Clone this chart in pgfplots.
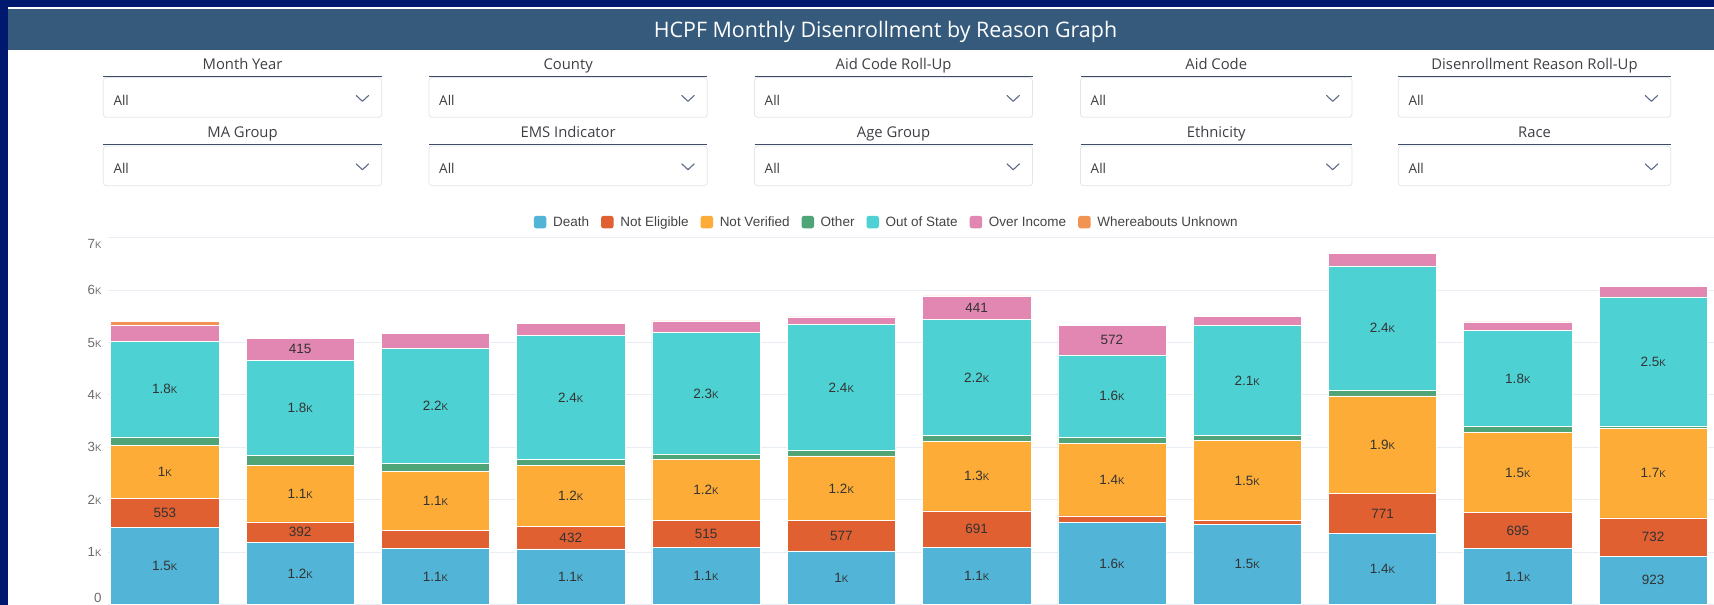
\documentclass[border=0pt]{standalone}
\usepackage{fontspec}
\setmainfont{Liberation Sans}
\newfontfamily\osans{Open Sans}
\usepackage{pgfplots}
\usepackage{pgfplotstable}
\pgfplotsset{compat=1.18}

% palette
\definecolor{navyb}{HTML}{00196E}
\definecolor{titlebar}{HTML}{355A7B}
\definecolor{cDeath}{HTML}{52B5D8}
\definecolor{cNE}{HTML}{E06032}
\definecolor{cNV}{HTML}{FDAC38}
\definecolor{cOth}{HTML}{50A578}
\definecolor{cOOS}{HTML}{4ED1D3}
\definecolor{cOI}{HTML}{E287B1}
\definecolor{cWU}{HTML}{F39351}
\definecolor{gridc}{HTML}{E8EDF3}
\definecolor{tickc}{HTML}{6B6B6B}
\definecolor{labc}{HTML}{333333}
\definecolor{legc}{HTML}{444444}
\definecolor{fltlab}{HTML}{3F3F46}
\definecolor{allc}{HTML}{3C3C3C}
\definecolor{ulc}{HTML}{3E4C6A}
\definecolor{boxc}{HTML}{E2E5EA}
\definecolor{chevc}{HTML}{5B6B88}

% fonts
\newcommand\lbfont{\fontsize{13.5}{16}\selectfont}
\newcommand\lgfont{\fontsize{13.5}{16}\selectfont}
\newcommand\tkfont{\fontsize{13.3}{15}\selectfont}
\newcommand\fltfont{\osans\fontsize{14.8}{17}\selectfont}
\newcommand\allfont{\osans\fontsize{13.5}{16}\selectfont}
\newcommand\ttlfont{\osans\fontsize{21.4}{24}\selectfont}

% small-capital thousands suffix
\newcommand\sK{\scalebox{0.72}{K}}

% segment label: hidden below 380, short form from 1000 on
\newcommand\segfmt[1]{%
  \pgfkeys{/pgf/fpu=false}%
  \pgfmathtruncatemacro\segv{#1}%
  \ifnum\segv<380 \else
    \ifnum\segv<1000 \segv\else
      \pgfmathparse{\segv/1000}%
      \pgfmathprintnumber[fixed,precision=1,assume math mode=true]{\pgfmathresult}\sK
    \fi
  \fi}

% one drop-down filter: left, right, row offset, caption
\newcommand\filterbox[4]{%
  \node[font=\fltfont, text=fltlab, anchor=base] at ({(#1+#2)/2},{69.5+#3}) {#4};
  \draw[boxc, fill=white, rounded corners=3pt, line width=0.8pt] (#1,{77.6+#3}) rectangle (#2,{117.3+#3});
  \draw[ulc, line width=1.5pt] (#1,{76.3+#3}) -- (#2,{76.3+#3});
  \node[font=\allfont, text=allc, anchor=base west, inner sep=0pt] at ({#1+10},{105.5+#3}) {All};
  \draw[chevc, line width=1.1pt, line cap=round, line join=round]
    ({#2-25.5},{95.5+#3}) -- ({#2-19.3},{101.3+#3}) -- ({#2-13.1},{95.5+#3});
}

% monthly disenrollments by reason
\pgfplotstableread{
x  death ne  nv   oth oos  oi  wu
0  1475  553 1015 155 1825 315 70
1  1187  392 1082 178 1826 415 12
2  1070  340 1135 145 2200 290 10
3  1060  432 1160 115 2370 225 5
4  1084  515 1164 100 2330 215 5
5  1022  577 1235 101 2418 134 5
6  1097  691 1332 101 2214 441 15
7  1570  120 1380 122 1570 572 8
8  1536  63  1527 95  2107 164 5
9  1352  771 1860 100 2380 240 5
10 1065  695 1520 114 1832 160 10
11 923   732 1700 55  2460 195 5
}\disdata

% stacked segment with its value centred inside
\pgfplotsset{
  seg/.style n args={2}{
    fill=#1, draw=white, line width=0.5pt,
    visualization depends on={\thisrow{#2} \as \rawv},
    nodes near coords={\segfmt{\rawv}},
    every node near coord/.append style={anchor=center},
  },
}

\begin{document}
\begin{tikzpicture}
\useasboundingbox (0,0) rectangle (1714pt,605pt);
\clip (0,0) rectangle (1714pt,605pt);
\begin{scope}[x=1pt, y=-1pt, yshift=605pt]
  % frame and card
  \fill[navyb] (0,0) rectangle (1714,605);
  \fill[white] (8.2,6.7) rectangle (1714,605);
  % title bar
  \fill[titlebar] (8.2,9.3) rectangle (1714,50);
  \node[font=\ttlfont, text=white, anchor=base] at (885.5,38.0) {HCPF Monthly Disenrollment by Reason Graph};
  % filters, first row
  \filterbox{103.3}{381.7}{0}{Month Year}
  \filterbox{429}{707.3}{0}{County}
  \filterbox{754.5}{1032.5}{0}{Aid Code Roll-Up}
  \filterbox{1080.5}{1352}{0}{Aid Code}
  \filterbox{1398.3}{1670.7}{0}{Disenrollment Reason Roll-Up}
  % filters, second row
  \filterbox{103.3}{381.7}{68.4}{MA Group}
  \filterbox{429}{707.3}{68.4}{EMS Indicator}
  \filterbox{754.5}{1032.5}{68.4}{Age Group}
  \filterbox{1080.5}{1352}{68.4}{Ethnicity}
  \filterbox{1398.3}{1670.7}{68.4}{Race}
\end{scope}

\begin{axis}[
  at={(108.3pt,0.5pt)}, anchor=south west,
  scale only axis, width=1605.7pt, height=366.8pt,
  xmin=-0.418, xmax=11.4497, ymin=0, ymax=7000,
  ybar stacked, bar width=0.8,
  axis line style={draw=none},
  major tick length=0pt,
  xtick=\empty,
  ytick={0,1000,2000,3000,4000,5000,6000,7000},
  % end labels are kept inside the plot band
  yticklabels={\raisebox{2.45pt}[0pt][0pt]{0},1\sK,2\sK,3\sK,4\sK,5\sK,6\sK,\raisebox{-10.75pt}[0pt][0pt]{7\sK}},
  yticklabel style={font=\tkfont, text=tickc, anchor=east, inner sep=0pt, xshift=-6.6pt},
  ymajorgrids, grid style={gridc, line width=1pt},
  every node near coord/.append style={font=\lbfont, text=labc},
  legend columns=7,
  legend style={at={(0.4842,1.0425)}, anchor=center, draw=none, fill=none,
    font=\lgfont, text=legc, inner sep=0pt, nodes={inner sep=0pt},
    /tikz/every odd column/.append style={column sep=6.7pt},
    /tikz/every even column/.append style={column sep=12pt}},
  legend image code/.code={\fill[#1, draw=none, rounded corners=2.5pt] (0pt,-6.25pt) rectangle (12.5pt,6.25pt);},
  legend entries={Death, Not Eligible, Not Verified, Other, Out of State, Over Income, Whereabouts Unknown},
]
\addplot[seg={cDeath}{death}] table[x=x, y=death] {\disdata};
\addplot[seg={cNE}{ne}]       table[x=x, y=ne]    {\disdata};
\addplot[seg={cNV}{nv}]       table[x=x, y=nv]    {\disdata};
\addplot[seg={cOth}{oth}]     table[x=x, y=oth]   {\disdata};
\addplot[seg={cOOS}{oos}]     table[x=x, y=oos]   {\disdata};
\addplot[seg={cOI}{oi}]       table[x=x, y=oi]    {\disdata};
\addplot[seg={cWU}{wu}]       table[x=x, y=wu]    {\disdata};
\end{axis}
\end{tikzpicture}
\end{document}
